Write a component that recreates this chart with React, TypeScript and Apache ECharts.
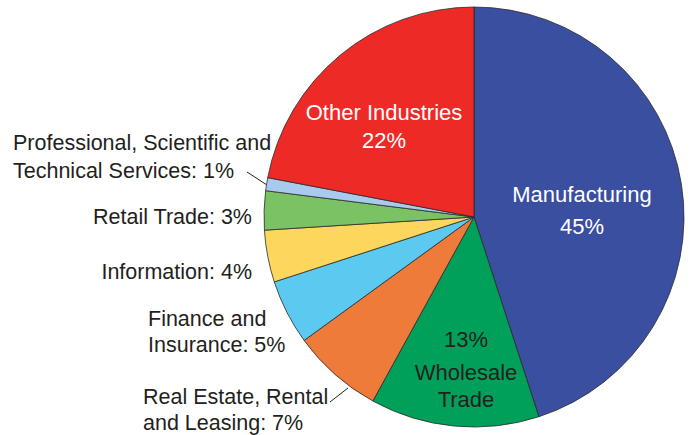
import React, { useEffect, useRef } from "react";
import * as echarts from "echarts";

const categories = [
  "Manufacturing",
  "Wholesale Trade",
  "Real Estate, Rental and Leasing",
  "Finance and Insurance",
  "Information",
  "Retail Trade",
  "Professional, Scientific and Technical Services",
  "Other Industries",
];
const values = [45, 13, 7, 5, 4, 3, 1, 22];
const colors = ["#3a4fa0", "#00a05a", "#ef7b3b", "#5ccaf0", "#fdd75d", "#7bc265", "#a8cbed", "#ee2a27"];
const labelTexts = [
  "Manufacturing\n45%",
  "{a|13%}\n{b|Wholesale}\n{b|Trade}",
  "Real Estate, Rental\nand Leasing: 7%",
  "Finance and\nInsurance: 5%",
  "Information: 4%",
  "Retail Trade: 3%",
  "Professional, Scientific and\nTechnical Services: 1%",
  "Other Industries\n22%",
];

const DARK = "#231f20";
const FONT = "Liberation Sans, Arial, sans-serif";

const labelPlace: Record<number, any> = {
  0: { x: 582, y: 210, align: "center", verticalAlign: "middle" },
  1: { x: 466, y: 366, align: "center", verticalAlign: "middle" },
  2: {
    x: 143, y: 410, align: "left", verticalAlign: "middle",
    labelLinePoints: [[330, 402], [339, 395], [348, 388]],
  },
  3: { x: 148, y: 332, align: "left", verticalAlign: "middle" },
  4: { x: 252, y: 272, align: "right", verticalAlign: "middle" },
  5: { x: 252, y: 217, align: "right", verticalAlign: "middle" },
  6: {
    x: 13, y: 156.5, align: "left", verticalAlign: "middle",
    labelLinePoints: [[247, 172], [257, 178.5], [267, 185]],
  },
  7: { x: 384, y: 126.5, align: "center", verticalAlign: "middle" },
};

const lineHeights = [32, 27, 26, 26, 26, 26, 28, 28];

export default function App() {
  const ref = useRef<HTMLDivElement>(null);
  useEffect(() => {
    if (!ref.current) return;
    const chart = echarts.init(ref.current, null, { renderer: "svg" });
    const insideIdx = [0, 1, 7];
    chart.setOption({
      animation: false,
      backgroundColor: "#ffffff",
      series: [
        {
          type: "pie",
          center: [474, 217],
          radius: 210,
          startAngle: 90,
          clockwise: true,
          avoidLabelOverlap: false,
          itemStyle: { borderColor: "#2a2a2a", borderWidth: 0.8 },
          label: {
            fontFamily: FONT,
            fontSize: 21.5,
            color: DARK,
          },
          labelLine: { show: false, lineStyle: { color: DARK, width: 1 } },
          labelLayout: (params: any) => labelPlace[params.dataIndex],
          data: categories.map((name, i) => ({
            name,
            value: values[i],
            itemStyle: { color: colors[i] },
            label: {
              show: true,
              position: insideIdx.includes(i) ? "inside" : "outside",
              formatter: labelTexts[i],
              fontSize: insideIdx.includes(i) ? 22 : 21.5,
              color: i === 0 || i === 7 ? "#ffffff" : DARK,
              lineHeight: lineHeights[i],
              rich: {
                a: { fontFamily: FONT, fontSize: 22, color: DARK, lineHeight: 40 },
                b: { fontFamily: FONT, fontSize: 22, color: DARK, lineHeight: 27 },
              },
            },
            labelLine: { show: i === 2 || i === 6, length: 8, length2: 8 },
          })),
        },
      ],
    });
    return () => chart.dispose();
  }, []);
  return (
    <div
      ref={ref}
      style={{ position: "fixed", left: 0, top: 0, width: 691, height: 435, background: "#fff" }}
    />
  );
}
